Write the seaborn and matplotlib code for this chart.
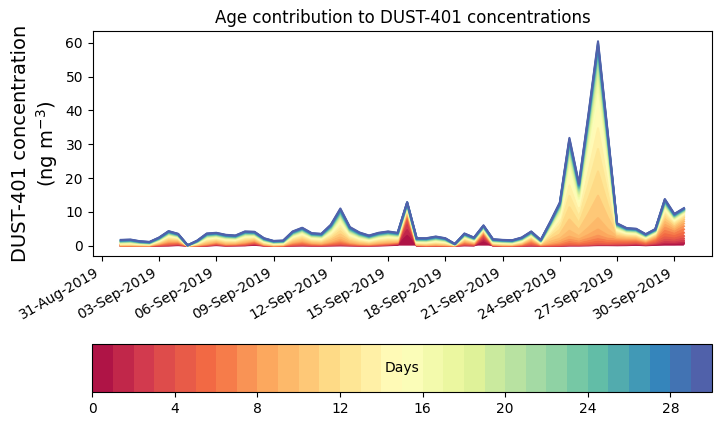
import numpy as np
import pandas as pd
import matplotlib
matplotlib.use("Agg")
import matplotlib.pyplot as plt
import matplotlib.dates as mdates
from matplotlib.colors import ListedColormap, Normalize
from matplotlib.cm import ScalarMappable
import seaborn as sns

# 12-hourly time steps, 01-Sep-2019 00:00 -> 30-Sep-2019 12:00
times = pd.date_range("2019-09-01 00:00", periods=60, freq="12h")
ages = list(range(30))
tick_days = pd.date_range("2019-08-31", "2019-09-30", freq="3D")
cbar_ticks = [0, 4, 8, 12, 16, 20, 24, 28]

# concentration (ng m-3) carried by each air-mass type
fresh = [0, 0, 0, 0, 0.1, 0.2, 0.5, 0, 0, 0.1,
         0.5, 0.1, 0.2, 0.3, 0.8, 0.1, 0, 0, 0.1, 0.2,
         0.1, 0.1, 0.2, 0.3, 0.2, 0.1, 0.1, 0.2, 0.4, 0.8,
         9.6, 0.1, 0, 0, 0, 0, 0.3, 0.2, 3.5, 0.1,
         0, 0, 0, 0.1, 0, 0, 0, 0.2, 0.2, 0.3,
         0.5, 0.5, 0.4, 0.5, 0.8, 0.4, 0.8, 1.5, 1.5, 2.0]
orange = [0.1, 0.1, 0.1, 0.1, 0.6, 1.3, 1.0, 0, 0.2, 0.5,
          0.7, 0.5, 0.5, 0.8, 0.9, 0.3, 0.1, 0.2, 1.0, 1.4,
          0.8, 0.6, 1.0, 1.5, 0.8, 0.5, 0.4, 0.6, 0.6, 0.4,
          0.7, 0.2, 0.2, 0.3, 0.2, 0.1, 1.2, 0.7, 0.8, 0.3,
          0.2, 0.2, 0.6, 2.0, 0.4, 0.6, 0.9, 1.0, 0.9, 1.0,
          1.2, 1.0, 2.2, 2.0, 1.6, 1.2, 2.2, 6.0, 4.3, 6.0]
yellow = [0.5, 0.6, 0.4, 0.3, 0.8, 1.6, 1.0, 0.05, 0.6, 1.7,
          1.4, 1.4, 1.2, 1.8, 1.2, 0.8, 0.5, 0.5, 1.7, 2.2,
          1.5, 1.5, 3.0, 6.2, 2.5, 1.7, 1.2, 1.6, 1.8, 1.3,
          1.2, 0.8, 0.8, 1.1, 0.9, 0.2, 1.0, 0.6, 0.6, 0.6,
          0.6, 0.5, 0.8, 0.9, 0.5, 5.0, 9.9, 26.7, 14.3, 33.2,
          53.8, 28.5, 2.5, 1.4, 1.3, 0.8, 0.8, 4.0, 2.0, 1.7]
old = [1.1, 1.1, 0.8, 0.7, 0.9, 1.2, 1.0, 0.05, 0.7, 1.3,
       1.2, 1.2, 1.1, 1.3, 1.2, 1.0, 0.8, 0.8, 1.4, 1.5,
       1.3, 1.3, 2.0, 3.0, 2.0, 1.6, 1.3, 1.4, 1.4, 1.3,
       1.4, 1.1, 1.2, 1.3, 1.1, 0.2, 1.1, 0.9, 1.1, 0.9,
       0.9, 0.9, 1.0, 1.2, 0.8, 1.5, 2.0, 4.0, 3.0, 4.5,
       5.0, 4.0, 1.5, 1.3, 1.3, 1.0, 1.1, 2.3, 1.6, 1.4]

# share (%) of each air-mass type found at each age (days 0..29)
fresh_age = [30, 18, 17, 13, 8, 5, 3, 2, 1, 1,
             0.5, 0.5, 0.3, 0.2, 0.5, 0, 0, 0, 0, 0,
             0, 0, 0, 0, 0, 0, 0, 0, 0, 0]
orange_age = [0, 0, 3, 6, 10, 14, 15, 14, 12, 9,
              6, 4, 3, 2, 1, 1, 0, 0, 0, 0,
              0, 0, 0, 0, 0, 0, 0, 0, 0, 0]
yellow_age = [0, 0, 0, 0, 0, 0.5, 1, 1.5, 3, 6,
              12, 13, 12, 11, 10, 8, 5, 4, 3, 2,
              2, 1.5, 1, 1, 0.5, 0.4, 0.4, 0.4, 0.4, 0.4]
old_age = [0, 0, 0, 0, 0, 0.5, 0.5, 1, 1, 1,
           2, 3, 3, 4, 4, 5, 5, 5, 5, 5,
           5, 5, 5, 5, 5, 6, 6, 6, 6, 6]

comps = np.array([fresh, orange, yellow, old])
shares = np.array([fresh_age, orange_age, yellow_age, old_age]) / 100.0
layers = shares.T @ comps            # (age, time)
cum = np.cumsum(layers, axis=0)

colors = sns.color_palette("Spectral", 30)
cmap = ListedColormap(colors)

fig = plt.figure(figsize=(7.21, 4.25), dpi=100)
ax = fig.add_axes([0.1286, 0.398, 0.859, 0.529])

polys = ax.stackplot(times, layers, colors=colors)
for p in polys:
    p.sticky_edges.y.clear()

df_lines = pd.DataFrame({
    "time": np.tile(times.values, 30),
    "age": np.repeat(ages, 60),
    "cum": cum.ravel(),
})
sns.lineplot(data=df_lines, x="time", y="cum", hue="age", palette=colors,
             linewidth=1.5, estimator=None, legend=False, ax=ax)

ax.set_title("Age contribution to DUST-401 concentrations")
ax.set_xlabel("")
ax.set_ylabel("DUST-401 concentration\n(ng m$^{-3}$)", fontsize=14)
ax.set_xticks(tick_days)
ax.xaxis.set_major_formatter(mdates.DateFormatter("%d-%b-%Y"))
plt.setp(ax.get_xticklabels(), rotation=30, ha="right")

# colour bar with the age classes
cax = fig.add_axes([0.128, 0.078, 0.859, 0.113])
sm = ScalarMappable(norm=Normalize(0, 30), cmap=cmap)
cb = fig.colorbar(sm, cax=cax, orientation="horizontal", ticks=cbar_ticks)
cax.text(0.5, 0.5, "Days", ha="center", va="center", transform=cax.transAxes)

fig.savefig("out.png", dpi=100)
